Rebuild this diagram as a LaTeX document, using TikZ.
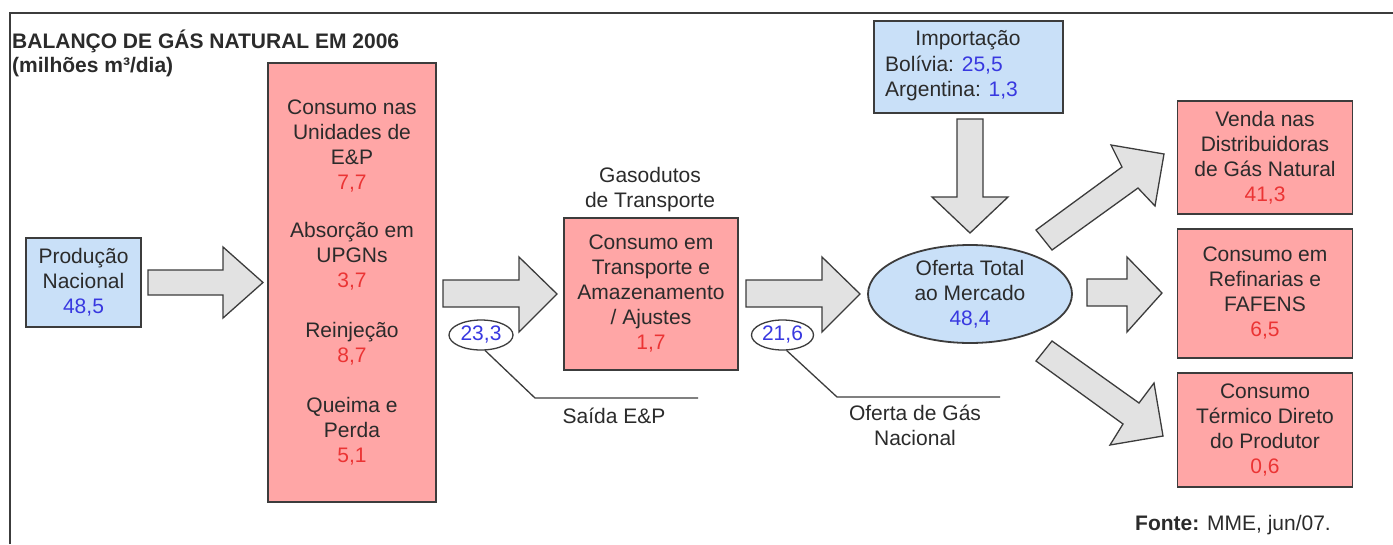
\documentclass[tikz,border=0pt]{standalone}
\usepackage{fontspec}
\setmainfont{Liberation Sans}
\usetikzlibrary{shapes.geometric}
\definecolor{txt}{HTML}{2B2B2B}
\definecolor{bord}{HTML}{3C3C3C}
\definecolor{numred}{HTML}{EB3434}
\definecolor{numblue}{HTML}{3838E0}
\definecolor{redfill}{HTML}{FFA6A6}
\definecolor{bluefill}{HTML}{C9E0F8}
\definecolor{arrowfill}{HTML}{E2E2E2}
\newcommand{\rnum}[1]{\textcolor{numred}{#1}}
\newcommand{\bnum}[1]{\textcolor{numblue}{#1}}
\begin{document}
\begin{tikzpicture}[x=1pt,y=-1pt,
  basefont/.style={font=\fontsize{21}{25}\selectfont, text=txt},
  lbl/.style={basefont, anchor=base, inner sep=0pt},
  redbox/.style={basefont, draw=bord, line width=1.8pt, fill=redfill, align=center, inner sep=0pt},
  bluebox/.style={basefont, draw=bord, line width=1.8pt, fill=bluefill, align=center, inner sep=0pt},
  numell/.style={basefont, ellipse, draw=bord, line width=1.3pt, fill=white, inner sep=0pt},
  blockarrow/.style={draw=bord, line width=1.3pt, fill=arrowfill, line join=miter},
  leader/.style={draw=bord, line width=1.3pt},
  frameline/.style={draw=bord, line width=2pt}]
\useasboundingbox (0,0) rectangle (1393,544);
\fill[white] (0,0) rectangle (1393,544);
% frame
\draw[frameline] (10,544) -- (10,12.5) -- (1393,12.5);
% title
\node[lbl, anchor=base west] (title) at (12,48) {\bfseries BALANÇO DE GÁS NATURAL EM 2006};
\node[lbl, anchor=base west] (unit) at (12,72) {\bfseries (milhões m³/dia)};
% block arrows
\draw[blockarrow] (148,270) -- (223,270) -- (223,247) -- (263,282.5) -- (223,318) -- (223,295) -- (148,295) -- cycle;
\draw[blockarrow] (443,280) -- (519,280) -- (519,257) -- (557,294) -- (519,332) -- (519,307) -- (443,307) -- cycle;
\draw[blockarrow] (746,280) -- (822,280) -- (822,257) -- (860,294) -- (822,332) -- (822,307) -- (746,307) -- cycle;
\draw[blockarrow] (957,119) -- (983,119) -- (983,197) -- (1008,197) -- (970,233) -- (932,197) -- (957,197) -- cycle;
\draw[blockarrow] (1087,279) -- (1127,279) -- (1127,257) -- (1162,293) -- (1127,332) -- (1127,306) -- (1087,306) -- cycle;
\draw[blockarrow] (1036,230) -- (1122,167) -- (1111,145) -- (1164,154) -- (1155,206) -- (1138,188) -- (1052,250) -- cycle;
\draw[blockarrow] (1036,361) -- (1052,341) -- (1139,403) -- (1154,383) -- (1163,436) -- (1110,445) -- (1123,424) -- cycle;
% boxes
\node[bluebox, minimum width=115pt, minimum height=89pt] (prod) at (83.5,282.5)
  {Produção\\Nacional\\\bnum{48,5}};
\node[redbox, minimum width=168pt, minimum height=439pt] (ep) at (352,282.5)
  {Consumo nas\\Unidades de\\E\&P\\\rnum{7,7}\\[23pt]Absorção em\\UPGNs\\\rnum{3,7}\\[25pt]Reinjeção\\\rnum{8,7}\\[25pt]Queima e\\Perda\\\rnum{5,1}};
\node[redbox, minimum width=174pt, minimum height=152pt] (transp) at (651,294)
  {Consumo em\\Transporte e\\Amazenamento\\/ Ajustes\\\rnum{1,7}};
\node[lbl] (gas1) at (650,182) {Gasodutos};
\node[lbl] (gas2) at (650,207) {de Transporte};
\node[bluebox, minimum width=189pt, minimum height=92pt] (imp) at (968.5,67) {};
\node[lbl] (imp1) at (968,45) {Importação};
\node[lbl, anchor=base west] (imp2) at (885,71) {Bolívia: \bnum{25,5}};
\node[lbl, anchor=base west] (imp3) at (885,96) {Argentina: \bnum{1,3}};
\node[bluebox, ellipse, minimum width=204pt, minimum height=98pt] (oferta) at (970,294)
  {Oferta Total\\ao Mercado\\\bnum{48,4}};
\node[redbox, minimum width=175pt, minimum height=113pt] (dist) at (1265,157.5)
  {Venda nas\\Distribuidoras\\de Gás Natural\\\rnum{41,3}};
\node[redbox, minimum width=175pt, minimum height=129pt] (refin) at (1265,293.5)
  {Consumo em\\Refinarias e\\FAFENS\\\rnum{6,5}};
\node[redbox, minimum width=175pt, minimum height=114pt] (term) at (1265,430)
  {Consumo\\Térmico Direto\\do Produtor\\\rnum{0,6}};
% number ellipses and leaders
\node[numell, minimum width=64pt, minimum height=30pt] (e233) at (481,335) {\bnum{23,3}};
\node[numell, minimum width=62pt, minimum height=30pt] (e216) at (782.5,335) {\bnum{21,6}};
\coordinate (k1) at (535,398);
\coordinate (k1e) at (698,398);
\coordinate (k2) at (837,397);
\coordinate (k2e) at (1000,397);
\draw[leader] (e233.285) -- (k1) -- (k1e);
\draw[leader] (e216.285) -- (k2) -- (k2e);
\node[lbl] (saida) at (614,423) {Saída E\&P};
\node[lbl] (ofn1) at (915,420) {Oferta de Gás};
\node[lbl] (ofn2) at (915,445) {Nacional};
% source
\node[lbl, anchor=base west] (fonte) at (1135,530) {\textbf{Fonte:} MME, jun/07.};
\end{tikzpicture}
\end{document}
